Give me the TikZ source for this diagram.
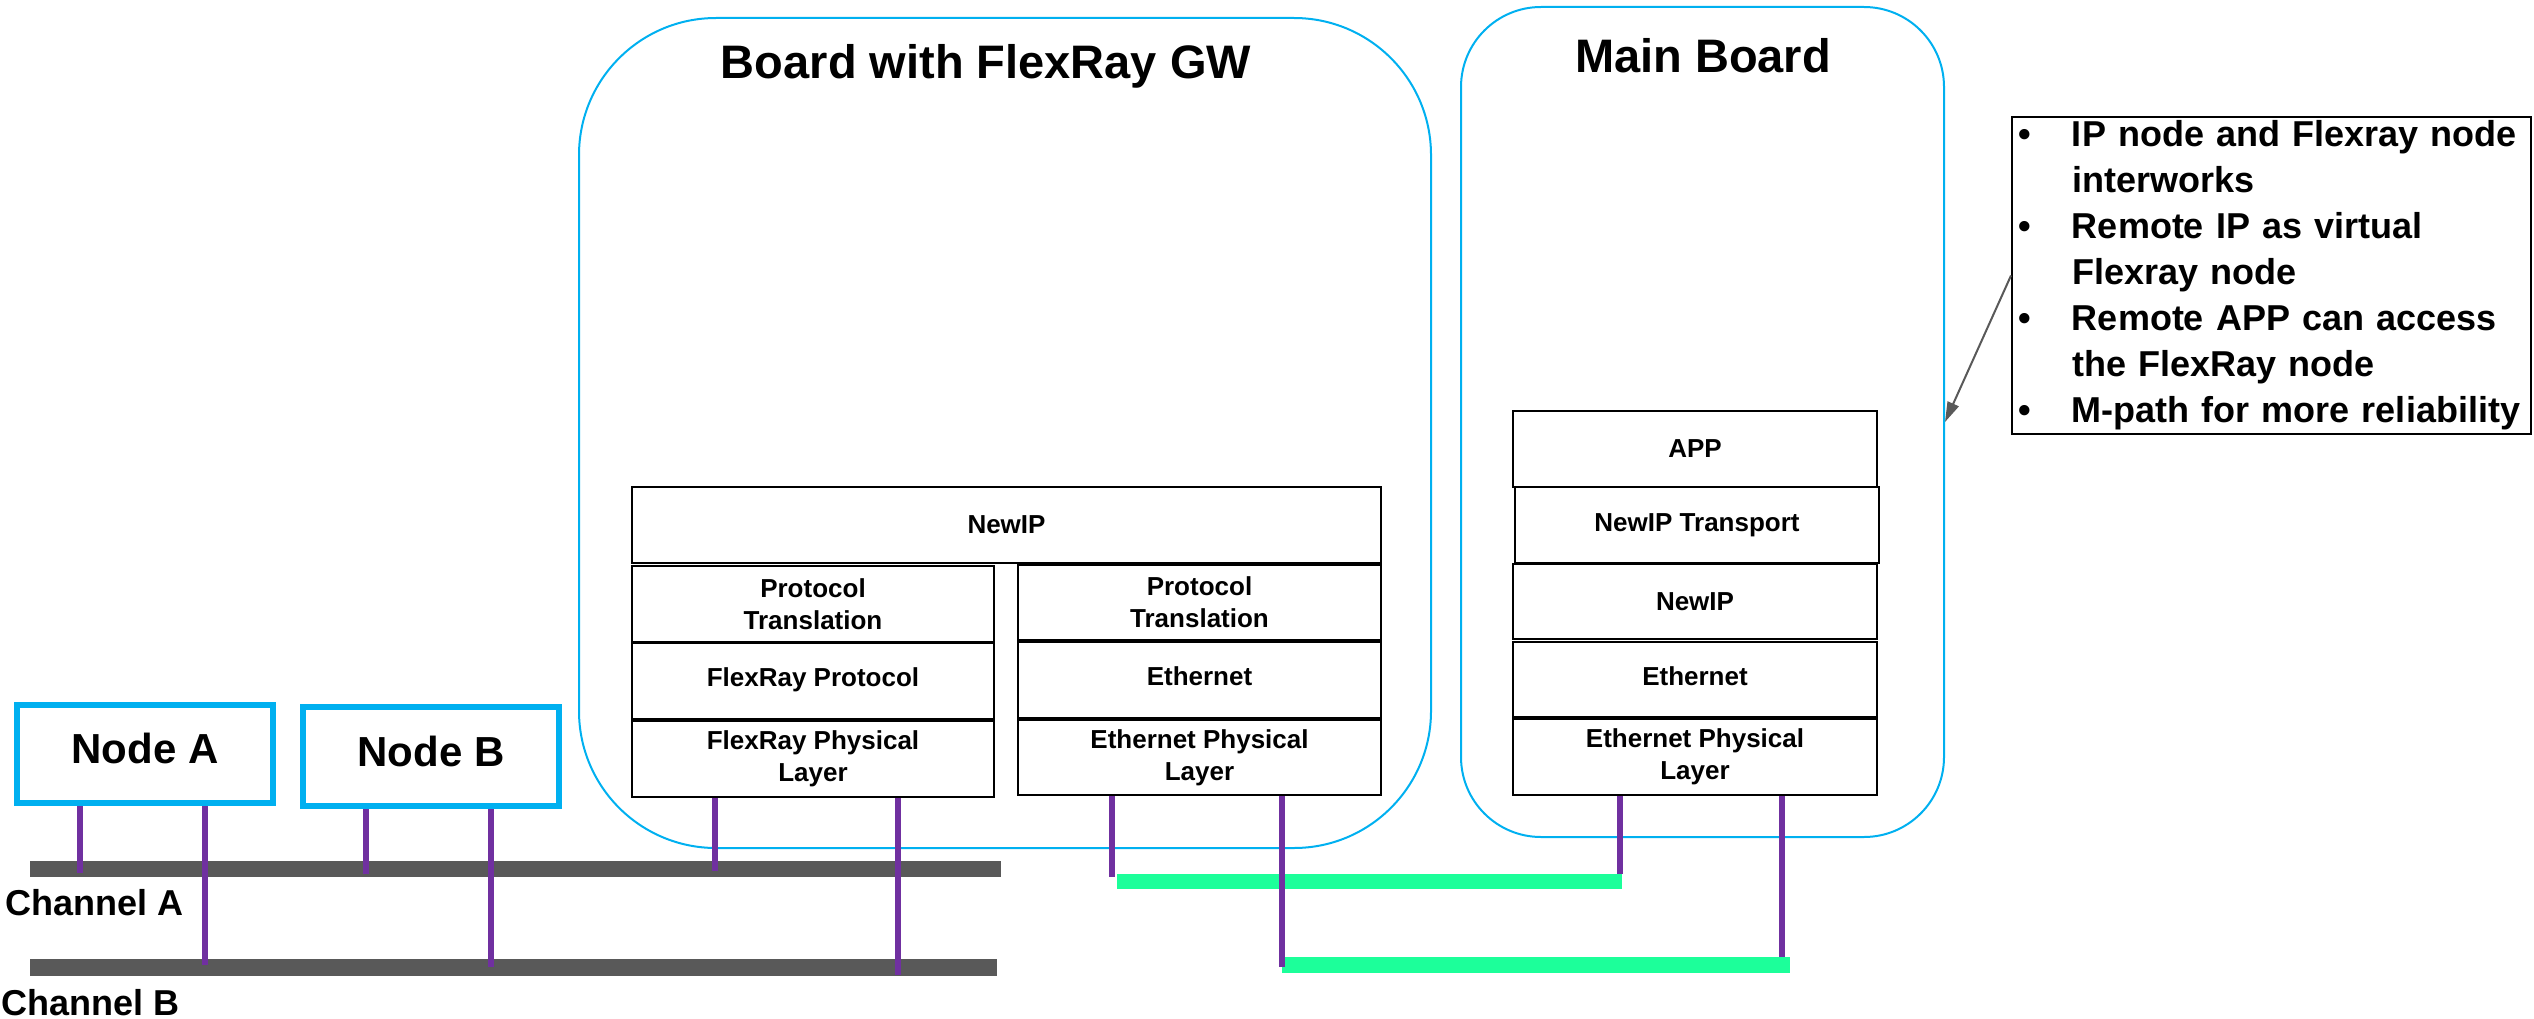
\documentclass[tikz,border=0pt]{standalone}
\usepackage{fontspec}
\setmainfont{Liberation Sans}
\usetikzlibrary{arrows.meta}
\definecolor{cyanc}{HTML}{00B0F0}
\definecolor{purplec}{HTML}{7030A0}
\definecolor{busgray}{HTML}{595959}
\definecolor{ethgreen}{HTML}{1CFF9A}
\newcommand{\tfont}{\fontsize{47}{56}\selectfont\bfseries}
\newcommand{\nfont}{\fontsize{42}{50}\selectfont\bfseries}
\newcommand{\lfont}{\fontsize{26}{32}\selectfont\bfseries}
\newcommand{\cfont}{\fontsize{36}{46}\selectfont\bfseries}
\begin{document}
\begin{tikzpicture}[x=1pt,y=-1pt,
  board/.style={draw=cyanc, line width=2pt, inner sep=0pt},
  layer/.style={draw=black, line width=2pt, fill=white, font=\lfont, align=center, inner sep=0pt},
  ecu/.style={draw=cyanc, line width=6pt, fill=white, font=\nfont, inner sep=0pt, minimum width=256pt},
  bus/.style={fill=busgray, draw=none, inner sep=0pt},
  eth/.style={fill=ethgreen, draw=none, inner sep=0pt},
  link/.style={draw=purplec, line width=6pt},
  ttl/.style={font=\tfont, inner sep=0pt, anchor=base},
  chl/.style={font=\cfont, inner sep=0pt, anchor=base west},
  callout/.style={draw=black, line width=2pt, font=\cfont, align=left, inner xsep=6pt, inner ysep=0pt, text width=507pt, minimum height=317pt},
  note/.style={draw=busgray, line width=2pt, -{Triangle[length=20pt,width=12pt]}}
]
\useasboundingbox (0,0) rectangle (2534,1019);

% boards
\node[board, rounded corners=137pt, minimum width=852pt, minimum height=830pt] (gw) at (1005,433) {};
\node[board, rounded corners=80pt, minimum width=483pt, minimum height=830pt] (mainb) at (1702.5,422) {};
\node[ttl] (gwt) at (986,79) {Board with FlexRay GW};
\node[ttl] (mbt) at (1703,73) {Main Board};

% GW stack
\node[layer, minimum width=749pt, minimum height=76pt] (gip) at (1006.5,525) {NewIP};
\node[layer, minimum width=362pt, minimum height=76pt] (lpt) at (813,604) {Protocol\\Translation};
\node[layer, minimum width=362pt, minimum height=76pt] (lfp) at (813,681) {\raisebox{8pt}{FlexRay Protocol}};
\node[layer, minimum width=362pt, minimum height=76pt] (lphy) at (813,759) {FlexRay Physical\\Layer};
\node[layer, minimum width=363pt, minimum height=75pt] (rpt) at (1199.5,602.5) {Protocol\\Translation};
\node[layer, minimum width=363pt, minimum height=76pt] (reth) at (1199.5,680) {\raisebox{8pt}{Ethernet}};
\node[layer, minimum width=363pt, minimum height=75pt] (rphy) at (1199.5,757.5) {Ethernet Physical\\Layer};

% Main stack
\node[layer, minimum width=364pt, minimum height=76pt] (app) at (1695,449) {\raisebox{-6pt}{APP}};
\node[layer, minimum width=364pt, minimum height=76pt] (mtr) at (1697,525) {NewIP Transport};
\node[layer, minimum width=364pt, minimum height=75pt] (mip) at (1695,601.5) {NewIP};
\node[layer, minimum width=364pt, minimum height=75pt] (meth) at (1695,679.5) {\raisebox{7pt}{Ethernet}};
\node[layer, minimum width=364pt, minimum height=76pt] (mphy) at (1695,757) {Ethernet Physical\\Layer};

% ECU nodes
\node[ecu, minimum height=98pt] (na) at (145,754) {\raisebox{11pt}{Node A}};
\node[ecu, minimum height=99pt] (nb) at (431,756.5) {\raisebox{11pt}{Node B}};

% buses
\node[bus, minimum width=971pt, minimum height=16pt] (cha) at (515.5,869) {};
\node[bus, minimum width=967pt, minimum height=17pt] (chb) at (513.5,967.5) {};
\node[chl] (chat) at (5,915) {Channel A};
\node[chl] (chbt) at (1,1015) {Channel B};
\node[eth, minimum width=505pt, minimum height=15pt] (g1) at (1369.5,881.5) {};
\node[eth, minimum width=508pt, minimum height=16pt] (g2) at (1536,965) {};

% links
\draw[link] (na.south -| 80,0) -- (80,873);
\draw[link] (na.south -| 205,0) -- (205,965);
\draw[link] (nb.south -| 366,0) -- (366,874);
\draw[link] (nb.south -| 491,0) -- (491,967);
\draw[link] (lphy.south -| 715,0) -- (715,871);
\draw[link] (lphy.south -| 898,0) -- (898,975);
\draw[link] (rphy.south -| 1112,0) -- (1112,877);
\draw[link] (rphy.south -| 1282,0) -- (1282,967);
\draw[link] (mphy.south -| 1620,0) -- (g1.north east -| 1620,0);
\draw[link] (mphy.south -| 1782,0) -- (g2.north -| 1782,0);

% callout
\node[callout] (note) at (2271.5,275.5) {%
\makebox[54pt][l]{\textbullet}IP node and Flexray node\\
\hspace*{54pt}interworks\\
\makebox[54pt][l]{\textbullet}Remote IP as virtual\\
\hspace*{54pt}Flexray node\\
\makebox[54pt][l]{\textbullet}Remote APP can access\\
\hspace*{54pt}the FlexRay node\\
\makebox[54pt][l]{\textbullet}M-path for more reliability};
\draw[note] (note.west) -- (mainb.east);
\end{tikzpicture}
\end{document}
